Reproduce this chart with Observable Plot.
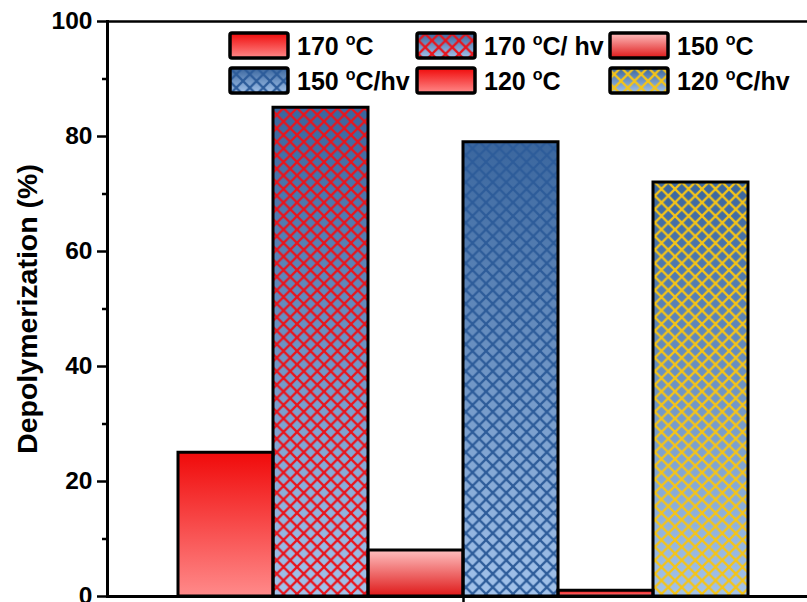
<!DOCTYPE html>
<html><head><meta charset="utf-8">
<script src="https://cdn.jsdelivr.net/npm/d3@7"></script>
<script src="https://cdn.jsdelivr.net/npm/@observablehq/plot@0.6"></script>
<style>
body{margin:0;background:#fff;font-family:"Liberation Sans",Arial,sans-serif;color:#000;}
#wrap{position:relative;width:807px;height:602px;}
#legend{position:absolute;left:0;top:0;pointer-events:none;}
#defs{position:absolute;width:0;height:0;}
</style></head><body>
<svg id="defs" width="0" height="0">
  <defs>
    <linearGradient id="gRedDown" x1="0" y1="0" x2="0" y2="1">
      <stop offset="0" stop-color="#f00a0a"/><stop offset="1" stop-color="#ff8a8a"/>
    </linearGradient>
    <linearGradient id="gRedUp" x1="0" y1="0" x2="0" y2="1">
      <stop offset="0" stop-color="#ffc0c0"/><stop offset="1" stop-color="#de1818"/>
    </linearGradient>
    <linearGradient id="gBlue" x1="0" y1="0" x2="0" y2="1">
      <stop offset="0" stop-color="#3a669e"/><stop offset="1" stop-color="#a2c2ea"/>
    </linearGradient>
    <pattern id="pRed" patternUnits="userSpaceOnUse" width="13.5" height="13.5">
      <path d="M-1,-1L14.5,14.5M14.5,-1L-1,14.5" stroke="#e8141c" stroke-width="2.3"/>
    </pattern>
    <pattern id="pBlue" patternUnits="userSpaceOnUse" width="13.5" height="13.5">
      <path d="M-1,-1L14.5,14.5M14.5,-1L-1,14.5" stroke="#2d5c9a" stroke-width="2.3"/>
    </pattern>
    <pattern id="pYellow" patternUnits="userSpaceOnUse" width="13.5" height="13.5">
      <path d="M-1,-1L14.5,14.5M14.5,-1L-1,14.5" stroke="#f4c418" stroke-width="2.3"/>
    </pattern>
  </defs>
</svg>
<div id="wrap"></div>
<script>
// ---- data ----
const temps = ["170", "170", "150", "150", "120", "120"];
const suffixes = ["C", "C/ hv", "C", "C/hv", "C", "C/hv"];
const values = [25, 85, 8, 79, 1, 72];
const yTicks = [0, 20, 40, 60, 80, 100];
const yMinorTicks = [10, 30, 50, 70, 90];
const yLabel = "Depolymerization (%)";

// ---- styles ----
const bgFills = ["url(#gRedDown)", "url(#gBlue)", "url(#gRedUp)", "url(#gBlue)", "url(#gRedDown)", "url(#gBlue)"];
const hatchFills = [null, "url(#pRed)", null, "url(#pBlue)", null, "url(#pYellow)"];

const data = values.map((v, i) => ({i, value: v}));
const hatchedData = data.filter(d => hatchFills[d.i]);

const chart = Plot.plot({
  width: 807, height: 602,
  marginLeft: 107, marginRight: 0, marginTop: 21, marginBottom: 6,
  style: {fontFamily: "'Liberation Sans', Arial, sans-serif", fontSize: "24px", fontWeight: "bold", color: "#000", background: "#fff", overflow: "visible"},
  x: {type: "linear", domain: [-0.7474, 6.6211], axis: null},
  y: {domain: [0, 100], axis: null},
  color: {type: "identity"},
  marks: [
    Plot.rectY(data, {x1: d => d.i, x2: d => d.i + 1, y1: 0, y2: "value", fill: d => bgFills[d.i]}),
    Plot.rectY(hatchedData, {x1: d => d.i, x2: d => d.i + 1, y1: 0, y2: "value", fill: d => hatchFills[d.i]}),
    Plot.rectY(data, {x1: d => d.i, x2: d => d.i + 1, y1: 0, y2: "value", fill: "none", stroke: "#000", strokeWidth: 3}),
    Plot.axisY({ticks: yTicks, tickSize: 10, tickPadding: 5, fontSize: 24.5, fontWeight: "bold", strokeWidth: 2.5, label: null}),
    Plot.axisY({ticks: yMinorTicks, tickSize: 5, tickFormat: () => "", strokeWidth: 2.5, label: null}),
    Plot.axisX({ticks: [values.length / 2], tickSize: 7, tickFormat: () => "", strokeWidth: 2.5, label: null}),
    Plot.ruleY([0], {stroke: "#000", strokeWidth: 3}),
    Plot.ruleY([100], {stroke: "#000", strokeWidth: 2.5}),
    Plot.frame({anchor: "left", stroke: "#000", strokeWidth: 3}),
    Plot.text([yLabel], {frameAnchor: "left", rotate: -90, dx: -80, textAnchor: "middle", fontSize: 28.5, fontWeight: "bold", fill: "#000"})
  ]
});
const wrap = document.getElementById("wrap");
wrap.appendChild(chart);

// ---- legend overlay ----
const colX = [230, 417, 610];
const rowY = [33, 68];
const leg = d3.create("svg").attr("id", "legend").attr("width", 807).attr("height", 120)
  .style("font-family", "'Liberation Sans', Arial, sans-serif").style("font-weight", "bold");
temps.forEach((t, k) => {
  const x = colX[k % 3], y = rowY[Math.floor(k / 3)];
  const g = leg.append("g");
  g.append("rect").attr("x", x).attr("y", y).attr("width", 58).attr("height", 25).attr("fill", bgFills[k]);
  if (hatchFills[k]) g.append("rect").attr("x", x).attr("y", y).attr("width", 58).attr("height", 25).attr("fill", hatchFills[k]);
  g.append("rect").attr("x", x).attr("y", y).attr("width", 58).attr("height", 25).attr("rx", 2)
    .attr("fill", "none").attr("stroke", "#000").attr("stroke-width", 3.5);
  const tx = g.append("text").attr("x", x + 67).attr("y", y + 21.5).attr("font-size", 25).attr("fill", "#000");
  tx.append("tspan").text(t + " ");
  tx.append("tspan").attr("font-size", 16).attr("dy", -10).text("o");
  tx.append("tspan").attr("dy", 10).text(suffixes[k]);
});
wrap.appendChild(leg.node());
</script>
</body></html>
